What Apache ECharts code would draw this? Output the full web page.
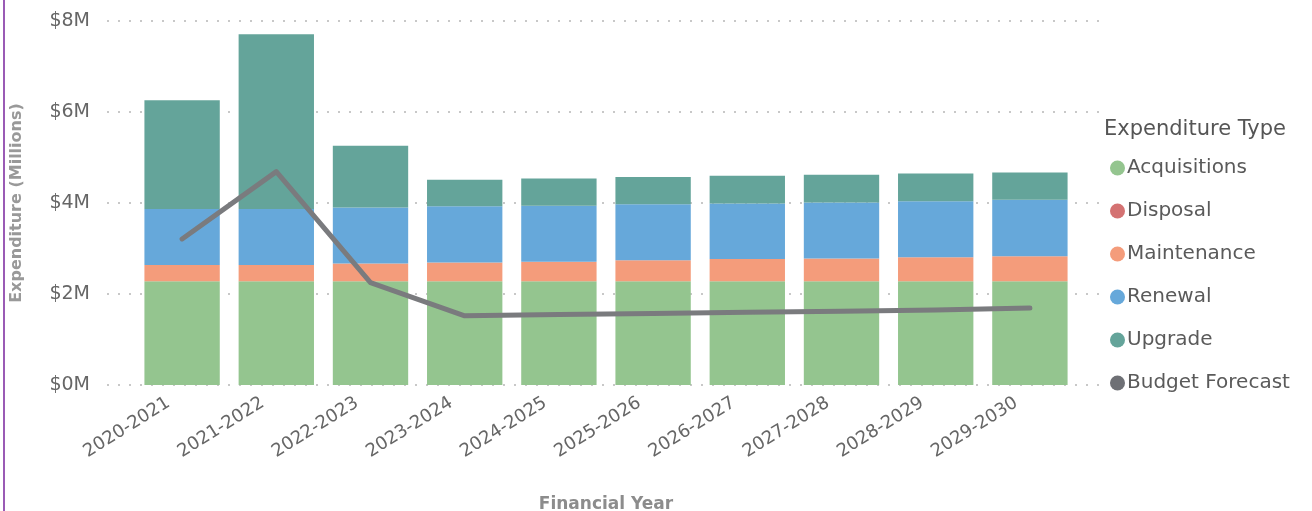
<!DOCTYPE html>
<html>
<head>
<meta charset="utf-8">
<script src="https://cdn.jsdelivr.net/npm/echarts@6/dist/echarts.min.js"></script>
<style>
  html, body { margin: 0; padding: 0; background: #fff; }
  #chart { width: 1312px; height: 511px; }
  .edge { position: absolute; left: 3px; top: 0; width: 2px; height: 511px; background: #9a5bb5; }
</style>
</head>
<body>
<div class="edge"></div>
<div id="chart"></div>
<script>
// values in $ millions
const years = ['2020-2021', '2021-2022', '2022-2023', '2023-2024', '2024-2025', '2025-2026', '2026-2027', '2027-2028', '2028-2029', '2029-2030'];
const acquisitions = [2.28, 2.28, 2.28, 2.28, 2.28, 2.28, 2.28, 2.28, 2.28, 2.28];
const disposal = [0, 0, 0, 0, 0, 0, 0, 0, 0, 0];
const maintenance = [0.36, 0.36, 0.39, 0.41, 0.43, 0.46, 0.49, 0.50, 0.53, 0.55];
const renewal = [1.23, 1.23, 1.23, 1.24, 1.23, 1.23, 1.22, 1.23, 1.23, 1.24];
const upgrade = [2.39, 3.84, 1.36, 0.58, 0.60, 0.60, 0.61, 0.61, 0.61, 0.60];
const budgetForecast = [3.21, 4.69, 2.25, 1.52, 1.55, 1.57, 1.60, 1.62, 1.65, 1.69];

const font = "'DejaVu Sans', 'Open Sans', sans-serif";
const chart = echarts.init(document.getElementById('chart'));

function barSeries(name, data, color) {
  return { name, type: 'bar', stack: 'total', xAxisIndex: 1, yAxisIndex: 1, data, barCategoryGap: '20%', itemStyle: { color } };
}

chart.setOption({
  animation: false,
  textStyle: { fontFamily: font },
  title: {
    text: 'Expenditure Type', left: 1104, top: 119, padding: 0,
    textStyle: { fontFamily: font, fontSize: 21, fontWeight: 'normal', color: '#555' },
  },
  legend: {
    orient: 'vertical', left: 1110, top: 158, padding: 0,
    icon: 'circle', itemWidth: 15, itemHeight: 15, itemGap: 23,
    textStyle: { fontFamily: font, fontSize: 20, color: '#5a5a5a', padding: [0, 0, 0, -3] },
    data: ['Acquisitions', 'Disposal', 'Maintenance', 'Renewal', 'Upgrade', { name: 'Budget Forecast', itemStyle: { color: '#6e7075' } }],
  },
  grid: [
    { left: 107, right: 207, top: 21, bottom: 126, outerBoundsMode: 'none' },
    { left: 135, right: 235, top: 21, bottom: 126, outerBoundsMode: 'none' },
  ],
  xAxis: [
    { gridIndex: 0, type: 'value', min: 0, max: 1, show: false },
    {
      gridIndex: 1, type: 'category', data: years,
      axisLine: { show: false }, axisTick: { show: false },
      axisLabel: { rotate: 32, fontSize: 18, color: '#666', margin: 8, padding: [0, 16, 0, 0] },
      name: 'Financial Year', nameLocation: 'middle', nameGap: 111,
      nameTextStyle: { fontSize: 17, fontWeight: 'bold', color: '#8c8c8c' },
    },
  ],
  yAxis: [
    {
      gridIndex: 0, type: 'value', min: 0, max: 8, interval: 2,
      axisLine: { show: false }, axisTick: { show: false },
      axisLabel: { fontSize: 19, color: '#666', margin: 17, formatter: v => '$' + v + 'M' },
      splitLine: { lineStyle: { color: '#c8c8c8', type: [2, 9], width: 2 } },
      name: 'Expenditure (Millions)', nameLocation: 'middle', nameGap: 82,
      nameTextStyle: { fontSize: 16, fontWeight: 'bold', color: '#999' },
    },
    { gridIndex: 1, type: 'value', min: 0, max: 8, interval: 2, show: false, splitLine: { show: false } },
  ],
  series: [
    barSeries('Acquisitions', acquisitions, '#94c58f'),
    barSeries('Disposal', disposal, '#d47272'),
    barSeries('Maintenance', maintenance, '#f49c7b'),
    barSeries('Renewal', renewal, '#66a8da'),
    barSeries('Upgrade', upgrade, '#64a49a'),
    {
      name: 'Budget Forecast', type: 'line', xAxisIndex: 1, yAxisIndex: 1, data: budgetForecast,
      symbol: 'none', lineStyle: { color: '#7a7b7e', width: 5, cap: 'round', join: 'round' },
      itemStyle: { color: '#6e7075' }, z: 5,
    },
  ],
});
</script>
</body>
</html>
